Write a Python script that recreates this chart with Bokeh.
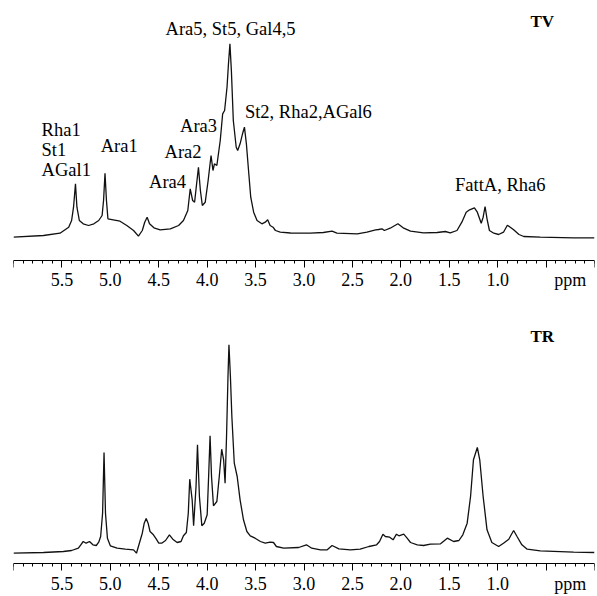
from bokeh.plotting import figure
from bokeh.models import Range1d, FixedTicker, CustomJSTickFormatter, LinearAxis
from bokeh.layouts import column
from bokeh.core.properties import value
from bokeh.embed import file_html
from bokeh.resources import INLINE

# ---------------- data ----------------
top_ppm = [6.00, 5.69, 5.52, 5.43, 5.40, 5.38, 5.36, 5.345, 5.32, 5.28, 5.225, 5.17, 5.12, 5.085, 5.07,
           5.055, 5.04, 5.025, 4.97, 4.90, 4.83, 4.76, 4.71, 4.67, 4.645, 4.62, 4.595, 4.55, 4.485, 4.38,
           4.295, 4.245, 4.20, 4.175, 4.15, 4.13, 4.09, 4.07, 4.05, 4.02, 3.99, 3.96, 3.94, 3.925, 3.90,
           3.865, 3.84, 3.82, 3.795, 3.78, 3.765, 3.75, 3.73, 3.70, 3.685, 3.66, 3.635, 3.615, 3.595, 3.57,
           3.55, 3.52, 3.485, 3.435, 3.40, 3.375, 3.35, 3.32, 3.295, 3.245, 3.14, 2.935, 2.80, 2.71, 2.66,
           2.45, 2.35, 2.26, 2.23, 2.195, 2.17, 2.11, 2.03, 1.97, 1.90, 1.765, 1.625, 1.54, 1.49, 1.42,
           1.37, 1.325, 1.29, 1.265, 1.24, 1.21, 1.17, 1.15, 1.13, 1.11, 1.085, 1.04, 0.99, 0.94, 0.90,
           0.87, 0.835, 0.78, 0.73, 0.56, 0.215, 0.00]
top_int = [0.3, 2, 4.3, 10.3, 17, 30.3, 53.7, 30.3, 17, 13.7, 12, 13.7, 17, 22, 37,
           64.3, 37, 18.7, 17.7, 16.3, 12, 7, 1.3, 7, 15.3, 20.3, 13.7, 9.7, 7.7, 8.7,
           12, 17, 27, 48.7, 37, 35.3, 70.3, 47, 32, 35.3, 57, 82, 67, 73.7, 72,
           97, 123.7, 127, 150.3, 173.7, 193.7, 167, 117, 90.3, 87, 93.7, 103.7, 110.3, 93.7, 63.7,
           40.3, 25.3, 17, 13.7, 15.3, 17.7, 12, 10.3, 7, 5.3, 4.5, 4.3, 5, 6.3, 4.3,
           3.7, 5.3, 7.7, 8, 8.7, 7, 9.3, 13.7, 9.3, 6.3, 4.7, 5, 6, 4.7, 7,
           15.3, 25.3, 27.7, 28.7, 29.7, 25.3, 14.3, 20.3, 31, 18.7, 7, 4.3, 3, 5.3, 12.3,
           10.3, 7.7, 3, 1, 0.3, -0.3, -0.3]

bot_ppm = [6.00, 5.69, 5.485, 5.40, 5.33, 5.305, 5.28, 5.25, 5.215, 5.18, 5.145, 5.12, 5.10, 5.08, 5.065,
           5.05, 5.03, 5.00, 4.93, 4.845, 4.76, 4.73, 4.71, 4.67, 4.65, 4.63, 4.61, 4.59, 4.555, 4.525,
           4.50, 4.47, 4.43, 4.39, 4.355, 4.31, 4.27, 4.245, 4.215, 4.195, 4.18, 4.155, 4.14, 4.115, 4.10,
           4.08, 4.055, 4.03, 4.00, 3.985, 3.97, 3.955, 3.935, 3.90, 3.875, 3.85, 3.83, 3.815, 3.80, 3.785,
           3.775, 3.76, 3.745, 3.72, 3.69, 3.66, 3.625, 3.59, 3.555, 3.505, 3.45, 3.40, 3.35, 3.315, 3.285,
           3.21, 3.055, 2.975, 2.92, 2.83, 2.76, 2.71, 2.64, 2.52, 2.42, 2.33, 2.25, 2.22, 2.185, 2.16,
           2.115, 2.08, 2.045, 2.02, 1.97, 1.935, 1.90, 1.83, 1.765, 1.695, 1.59, 1.52, 1.455, 1.40, 1.36,
           1.315, 1.28, 1.25, 1.21, 1.185, 1.15, 1.11, 1.06, 0.99, 0.94, 0.885, 0.86, 0.835, 0.80, 0.75,
           0.695, 0.56, 0.215, 0.00]
bot_int = [0.3, 1, 2, 3, 5.3, 8.7, 12, 10.3, 12, 8.7, 8, 11.3, 17, 40.3, 101,
           40.3, 15.3, 7.7, 5.3, 4.3, 3.7, 0.3, 7, 20.3, 30.3, 35, 30.3, 22, 18.7, 14.3,
           10.3, 10.3, 13, 18.7, 14.3, 11, 12, 17.7, 21, 40.3, 74.3, 53.7, 27.7, 67, 108.7,
           57, 27.7, 30.3, 38.7, 77, 117.7, 77, 47.7, 52, 77, 104.3, 93.7, 70.3, 117, 177,
           208.7, 177, 137, 90.3, 77, 53.7, 33.7, 22, 17.7, 15.3, 12, 10.3, 11.3, 11, 7,
           5.3, 6, 8.7, 5.3, 3.7, 3.7, 8, 4.7, 3.7, 4.3, 7, 8.7, 12, 19.3, 17,
           16.3, 13.7, 19.3, 17.7, 19.3, 15.3, 11, 8.7, 8, 9.3, 9.7, 15.3, 12, 13, 18.7,
           30.3, 57, 93.7, 106, 93.7, 57, 23.7, 11, 7, 10.3, 14.3, 18.7, 23, 17, 8.7,
           4.3, 2.7, 1.3, 1]

major_ticks = [6.0, 5.5, 5.0, 4.5, 4.0, 3.5, 3.0, 2.5, 2.0, 1.5, 1.0, 0.5, 0.0]
minor_ticks = [round(6.0 - 0.1 * i, 1) for i in range(61)]

top_labels = ["Rha1", "St1", "AGal1", "Ara1", "Ara4", "Ara2", "Ara3",
              "Ara5, St5, Gal4,5", "St2, Rha2,AGal6", "FattA, Rha6"]
top_label_x = [5.71, 5.71, 5.71, 5.10, 4.60, 4.44, 4.28, 4.43, 3.61, 1.44]
top_label_y = [108, 88, 68, 92, 56, 85.5, 112, 208.5, 126, 53]

FONT = "Liberation Serif"
TICK_OUT = 7
STANDOFF = 6


def make_fig(height, y0, y1, axis_y):
    p = figure(width=597, height=height, x_range=Range1d(6.0, 0.0), y_range=Range1d(y0, y1),
               output_backend="svg", toolbar_location=None, y_axis_location=None, x_axis_location=None,
               min_border_left=13, min_border_right=3, min_border_top=0, min_border_bottom=0)
    p.grid.visible = False
    p.outline_line_color = None
    p.background_fill_color = "white"
    p.border_fill_color = "white"
    ax = LinearAxis(fixed_location=axis_y)
    ax.ticker = FixedTicker(ticks=major_ticks, minor_ticks=minor_ticks)
    ax.formatter = CustomJSTickFormatter(code="return (tick > 5.9 || tick < 0.9) ? '' : tick.toFixed(1);")
    ax.axis_line_color = "black"
    ax.axis_line_width = 1
    ax.major_tick_out = TICK_OUT
    ax.major_tick_in = 0
    ax.minor_tick_out = 3
    ax.minor_tick_in = 0
    ax.major_tick_line_color = "black"
    ax.minor_tick_line_color = "black"
    ax.major_label_standoff = STANDOFF
    ax.major_label_text_font = FONT
    ax.major_label_text_font_size = "18px"
    ax.major_label_text_color = "black"
    p.add_layout(ax, "below")
    return p


# ---------------- top panel (TV) ----------------
top_axis = -22.5
p1 = make_fig(296, -59, 237, top_axis)
p1.line(top_ppm, top_int, line_color="#111111", line_width=1.3)
p1.text(x=top_label_x, y=top_label_y, text=top_labels, text_font=value(FONT),
        text_font_size="18.5px", text_align="left", text_baseline="middle", text_color="black")
p1.text(x=[0.54], y=[216], text=["TV"], text_font=value(FONT), text_font_size="17px",
        text_font_style="bold", text_align="center", text_baseline="middle", text_color="black")
p1.text(x=[0.25], y=[top_axis - TICK_OUT - STANDOFF + 3], text=["ppm"], text_font=value(FONT),
        text_font_size="18px", text_align="center", text_baseline="top", text_color="black")

# ---------------- bottom panel (TR) ----------------
bot_axis = -10
p2 = make_fig(300, -43, 257, bot_axis)
p2.line(bot_ppm, bot_int, line_color="#111111", line_width=1.3)
p2.text(x=[0.54], y=[217], text=["TR"], text_font=value(FONT), text_font_size="17px",
        text_font_style="bold", text_align="center", text_baseline="middle", text_color="black")
p2.text(x=[0.25], y=[bot_axis - TICK_OUT - STANDOFF + 3], text=["ppm"], text_font=value(FONT),
        text_font_size="18px", text_align="center", text_baseline="top", text_color="black")

layout = column(p1, p2)
open("out.html", "w").write(file_html(layout, INLINE))
